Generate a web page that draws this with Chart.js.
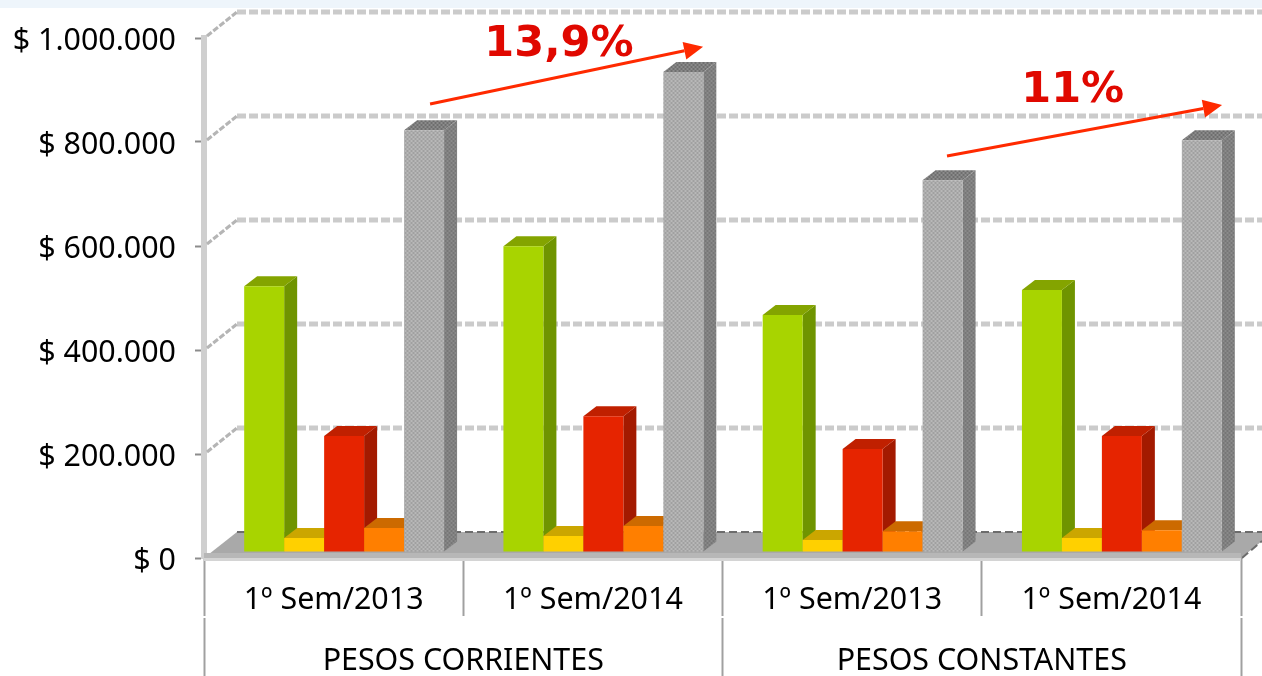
<!DOCTYPE html>
<html><head><meta charset="utf-8">
<style>html,body{margin:0;padding:0;background:#fff;overflow:hidden}canvas{display:block}</style>
<script src="https://cdn.jsdelivr.net/npm/chart.js@4"></script>
</head><body><canvas id="c" width="1262" height="676"></canvas>
<script>
const categories = ['1º Sem/2013','1º Sem/2014','1º Sem/2013','1º Sem/2014'];
const groupLabels = ['PESOS CORRIENTES','PESOS CONSTANTES'];
const seriesGreen  = [511000,588000,456000,504000];
const seriesYellow = [27000,31000,23000,27000];
const seriesRed    = [223000,261000,198000,223000];
const seriesOrange = [46000,50000,40000,42000];
const seriesGrey   = [811000,923000,715000,792000];
const trendNotes = [
  {label:'13,9%', from:[0.372,873000], to:[1.425,983000], text:[0.869,986000]},
  {label:'11%',   from:[2.366,773000], to:[3.427,871000], text:[2.851,899000]}
];
function pat(a,b){
  const p=document.createElement('canvas');p.width=4;p.height=4;
  const x=p.getContext('2d');x.fillStyle=a;x.fillRect(0,0,4,4);
  x.fillStyle=b;x.fillRect(0,0,2,2);x.fillRect(2,2,2,2);
  return document.getElementById('c').getContext('2d').createPattern(p,'repeat');
}
const looks=[
 {front:'#a8d400',side:'#6f9400',top:'#84a400'},
 {front:'#ffd000',side:'#b89400',top:'#cba600'},
 {front:'#e62400',side:'#a31a00',top:'#c02000'},
 {front:'#ff7f00',side:'#b85c00',top:'#cc6a00'},
 {front:pat('#b8b8b8','#a0a0a0'),side:pat('#8a8a8a','#767676'),top:pat('#8c8c8c','#6e6e6e')}
];
const DX=13,DY=10,BAR_DX=10.5,BAR_DY=-6,WALL_DX=33,WALL_DY=26;
const threeD={
 id:'threeD',
 beforeDraw(ch){
  const c=ch.ctx;c.save();c.fillStyle='#fff';c.fillRect(0,0,1262,676);
  c.fillStyle='#eef5fb';c.fillRect(0,0,1262,8);c.restore();
 },
 beforeDatasetsDraw(ch){
  const c=ch.ctx,y=ch.scales.y,a=ch.chartArea,W=ch.width;
  c.save();
  c.setLineDash([9,3]);c.lineWidth=5;c.strokeStyle='#cbcbcb';
  y.ticks.forEach(t=>{
    const py=y.getPixelForValue(t.value)-WALL_DY;
    if(t.value===0)return;
    c.beginPath();c.moveTo(a.left+WALL_DX,py);c.lineTo(W,py);c.stroke();
  });
  c.setLineDash([6,2]);c.lineWidth=3;c.strokeStyle='#b5b5b5';
  y.ticks.forEach(t=>{
    const py=y.getPixelForValue(t.value);
    if(t.value===0)return;
    c.beginPath();c.moveTo(a.left+3,py-2);c.lineTo(a.left+WALL_DX,py-WALL_DY);c.stroke();
  });
  c.setLineDash([]);
  const by=y.getPixelForValue(0);
  c.fillStyle='#a9a9a9';c.beginPath();
  c.moveTo(a.left,by);c.lineTo(a.left+WALL_DX,by-WALL_DY);c.lineTo(W,by-WALL_DY);c.lineTo(W,by-17);c.lineTo(a.right,by);c.closePath();c.fill();
  c.fillStyle='#b7b7b7';c.fillRect(a.left,by-5,a.right-a.left,5);
  c.fillStyle='#d4d4d4';c.fillRect(a.left,by,a.right-a.left,3);
  c.setLineDash([8,4]);c.lineWidth=2;c.strokeStyle='#6c6c6c';
  c.beginPath();c.moveTo(a.left+WALL_DX,by-WALL_DY);c.lineTo(W,by-WALL_DY);c.stroke();
  c.beginPath();c.moveTo(a.right+1,by);c.lineTo(W,by-17);c.stroke();
  c.setLineDash([]);
  c.translate(BAR_DX,BAR_DY);
  ch.getSortedVisibleDatasetMetas().slice().sort((p,q)=>p.index-q.index).forEach(m=>{
    const l=looks[m.index];
    m.data.forEach(el=>{
      const {x,y:top,base,width}=el.getProps(['x','y','base','width'],true);
      const L=x-width/2,R=x+width/2;
      c.fillStyle=l.side;c.beginPath();
      c.moveTo(R,top);c.lineTo(R+DX,top-DY);c.lineTo(R+DX,base-DY);c.lineTo(R,base);c.closePath();c.fill();
      c.fillStyle=l.top;c.beginPath();
      c.moveTo(L,top);c.lineTo(L+DX,top-DY);c.lineTo(R+DX,top-DY);c.lineTo(R,top);c.closePath();c.fill();
      el.draw(c,a);
    });
  });
  c.restore();
  return false;
 },
 afterDraw(ch){
  const c=ch.ctx,x=ch.scales.x,y=ch.scales.y;
  c.save();
  trendNotes.forEach(n=>{
    const x0=x.getPixelForValue(n.from[0]),y0=y.getPixelForValue(n.from[1]);
    const x1=x.getPixelForValue(n.to[0]),y1=y.getPixelForValue(n.to[1]);
    const an=Math.atan2(y1-y0,x1-x0),H=19,w=9;
    const bx=x1-H*Math.cos(an),by=y1-H*Math.sin(an);
    c.strokeStyle='#ff2a00';c.fillStyle='#ff2a00';c.lineWidth=3;
    c.beginPath();c.moveTo(x0,y0);c.lineTo(bx,by);c.stroke();
    c.beginPath();c.moveTo(x1,y1);
    c.lineTo(bx-w*Math.sin(an),by+w*Math.cos(an));
    c.lineTo(bx+w*Math.sin(an),by-w*Math.cos(an));c.closePath();c.fill();
    c.fillStyle='#e00800';c.font='bold 43px "DejaVu Sans"';c.textAlign='center';c.textBaseline='middle';
    c.fillText(n.label,x.getPixelForValue(n.text[0]),y.getPixelForValue(n.text[1]));
  });
  c.restore();
 }
};
const names=['Serie 1','Serie 2','Serie 3','Serie 4','Serie 5'];
const allSeries=[seriesGreen,seriesYellow,seriesRed,seriesOrange,seriesGrey];
new Chart(document.getElementById('c'),{
 type:'bar',
 data:{labels:categories,datasets:allSeries.map((d,i)=>({label:names[i],data:d,backgroundColor:looks[i].front,borderWidth:0,categoryPercentage:0.771,barPercentage:1}))},
 plugins:[threeD],
 options:{
  responsive:false,animation:false,
  layout:{padding:{top:38,right:21,left:0,bottom:0}},
  plugins:{legend:{display:false},tooltip:{enabled:false}},
  scales:{
   y:{min:0,max:1000000,afterFit(s){s.width=204;},
      ticks:{stepSize:200000,padding:19,labelOffset:3,color:'#000',font:{family:'"Noto Sans"',size:30.4},
        callback:v=>'$ '+String(v).replace(/\B(?=(\d{3})+$)/g,'.')},
      grid:{drawOnChartArea:false,tickLength:9,tickWidth:2,tickColor:'#8c8c8c'},
      border:{display:true,color:'#cfcfcf',width:6}},
   x:{weight:0,offset:true,afterFit(s){s.height=60;},
      ticks:{padding:-34,color:'#000',maxRotation:0,font:{family:'"Noto Sans"',size:30.4}},
      grid:{offset:true,drawOnChartArea:false,tickLength:58,tickWidth:2,tickColor:'#a0a0a0'},
      border:{display:false}},
   x2:{type:'category',position:'bottom',labels:groupLabels,weight:1,offset:true,afterFit(s){s.height=58;},
      ticks:{padding:-33,color:'#000',maxRotation:0,font:{family:'"Noto Sans"',size:30.4}},
      grid:{offset:true,drawOnChartArea:false,tickLength:58,tickWidth:2,tickColor:'#a0a0a0'},
      border:{display:false}}
  }
 }
});
</script></body></html>
